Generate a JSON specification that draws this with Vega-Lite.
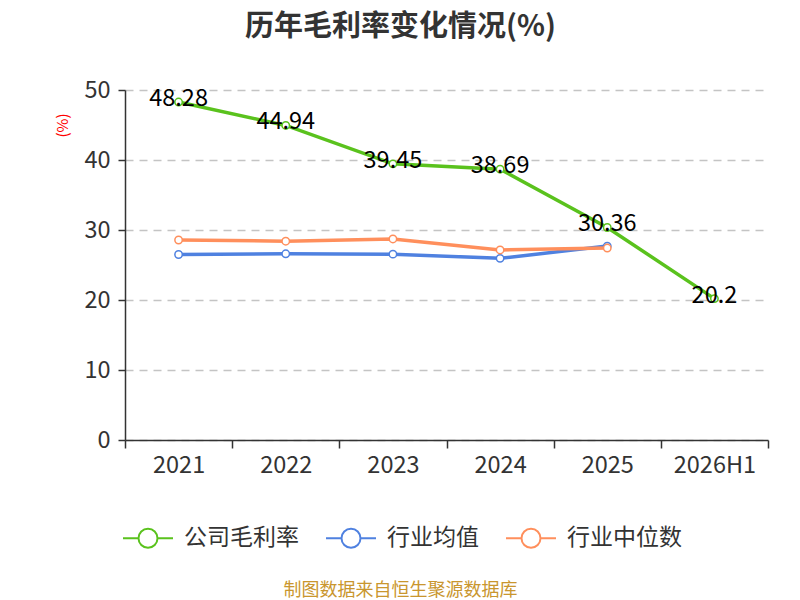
{
  "$schema": "https://vega.github.io/schema/vega-lite/v6.json",
  "width": 643,
  "height": 350,
  "autosize": "none",
  "padding": {"left": 125, "top": 90, "right": 32, "bottom": 160},
  "background": "white",
  "config": {
    "font": "Noto Sans CJK SC",
    "view": {"stroke": null},
    "axis": {"labelFont": "Noto Sans CJK SC", "labelColor": "#333", "labelFontSize": 23.5}
  },
  "title": {
    "text": "历年毛利率变化情况(%)",
    "font": "Noto Sans CJK SC",
    "fontSize": 29,
    "fontWeight": "bold",
    "color": "#333",
    "anchor": "middle",
    "dx": -46,
    "offset": 36
  },
  "data": {
    "values": [
      {"year": "2021", "series": "公司毛利率", "value": 48.28},
      {"year": "2022", "series": "公司毛利率", "value": 44.94},
      {"year": "2023", "series": "公司毛利率", "value": 39.45},
      {"year": "2024", "series": "公司毛利率", "value": 38.69},
      {"year": "2025", "series": "公司毛利率", "value": 30.36},
      {"year": "2026H1", "series": "公司毛利率", "value": 20.2},
      {"year": "2021", "series": "行业均值", "value": 26.5},
      {"year": "2022", "series": "行业均值", "value": 26.6},
      {"year": "2023", "series": "行业均值", "value": 26.55},
      {"year": "2024", "series": "行业均值", "value": 25.95},
      {"year": "2025", "series": "行业均值", "value": 27.7},
      {"year": "2021", "series": "行业中位数", "value": 28.57},
      {"year": "2022", "series": "行业中位数", "value": 28.4},
      {"year": "2023", "series": "行业中位数", "value": 28.72},
      {"year": "2024", "series": "行业中位数", "value": 27.15},
      {"year": "2025", "series": "行业中位数", "value": 27.42}
    ]
  },
  "encoding": {
    "x": {
      "field": "year",
      "type": "ordinal",
      "bandPosition": 0.5,
      "scale": {"type": "band", "paddingInner": 0, "paddingOuter": 0},
      "axis": {
        "labelAngle": 0,
        "tickBand": "extent",
        "grid": false,
        "domainColor": "#333",
        "domainWidth": 1.5,
        "tickColor": "#333",
        "tickWidth": 1.5,
        "tickSize": 8,
        "labelPadding": 5,
        "title": "制图数据来自恒生聚源数据库",
        "titleColor": "#c9962e",
        "titleFontSize": 18,
        "titleFontWeight": "normal",
        "titleX": 275,
        "titleY": 150,
        "titleAlign": "center",
        "titleBaseline": "middle",
        "titleAnchor": null
      }
    },
    "y": {
      "field": "value",
      "type": "quantitative",
      "scale": {"domain": [0, 50]},
      "axis": {
        "values": [0, 10, 20, 30, 40, 50],
        "domainColor": "#333",
        "domainWidth": 1.5,
        "tickColor": "#333",
        "tickWidth": 1.5,
        "tickSize": 7,
        "labelPadding": 8,
        "gridColor": "#c4c4c4",
        "gridWidth": 1.5,
        "gridDash": [8, 6],
        "title": "(%)",
        "titleColor": "red",
        "titleFontSize": 15,
        "titleFontWeight": "normal",
        "titleX": -63,
        "titleY": 35,
        "titleAlign": "center",
        "titleBaseline": "middle",
        "titleAnchor": null
      }
    },
    "color": {
      "field": "series",
      "type": "nominal",
      "scale": {
        "domain": ["公司毛利率", "行业均值", "行业中位数"],
        "range": ["#5ac21d", "#4f81e0", "#ff8f5c"]
      },
      "legend": {
        "orient": "none",
        "legendX": -3,
        "legendY": 422,
        "direction": "horizontal",
        "title": null,
        "padding": 0,
        "symbolType": "M-1,0L-0.38,0M0.38,0L1,0M0.38,0A0.38,0.38,0,1,1,-0.38,0A0.38,0.38,0,1,1,0.38,0",
        "symbolSize": 2500,
        "symbolStrokeWidth": 2,
        "symbolFillColor": "white",
        "labelFontSize": 23,
        "labelColor": "#333",
        "labelOffset": 10,
        "columnPadding": 23
      }
    }
  },
  "layer": [
    {"mark": {"type": "line", "strokeWidth": 3.5}},
    {"mark": {"type": "point", "filled": false, "fill": "white", "size": 55, "strokeWidth": 1.5, "opacity": 1}},
    {
      "transform": [{"filter": "datum.series === '公司毛利率'"}],
      "mark": {"type": "text", "fontSize": 23.5, "baseline": "middle", "dy": -3, "font": "Noto Sans CJK SC"},
      "encoding": {
        "text": {"field": "value", "type": "quantitative", "format": "~f"},
        "color": {"value": "#000"}
      }
    }
  ]
}
